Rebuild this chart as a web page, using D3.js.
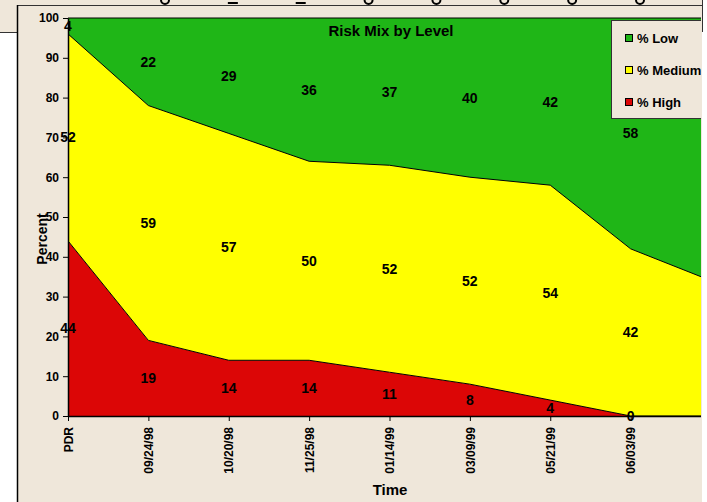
<!DOCTYPE html>
<html>
<head>
<meta charset="utf-8">
<script src="https://cdn.jsdelivr.net/npm/d3@7"></script>
<style>
  body { margin: 0; background: #fff; }
  svg { display: block; font-family: "Liberation Sans", Arial, sans-serif; font-weight: bold; }
</style>
</head>
<body>
<svg id="chart" width="707" height="502"></svg>
<script>
// Time categories; the last one runs off the window, so its label is never seen.
const times = ["PDR", "09/24/98", "10/20/98", "11/25/98", "01/14/99", "03/09/99", "05/21/99", "06/03/99", ""];
const pctHigh = [44, 19, 14, 14, 11, 8, 4, 0, 0];
const pctMedium = [52, 59, 57, 50, 52, 52, 54, 42, 34];
const pctLow = [4, 22, 29, 36, 37, 40, 42, 58, 66];
const yTicks = [0, 10, 20, 30, 40, 50, 60, 70, 80, 90, 100];
const seriesKeys = ["High", "Medium", "Low"];
const legendNames = ["% Low", "% Medium", "% High"];
// First glyphs of the upper chart's tick labels; only their bottoms peek in at the top.
const upperGlyphs = ["0", "1", "1", "0", "0", "0", "0", "0"];

const colors = { High: "#dc0606", Medium: "#ffff00", Low: "#1fb617" };
const legendColor = { "% Low": colors.Low, "% Medium": colors.Medium, "% High": colors.High };
const beige = "#efe7da";

const svg = d3.select("#chart");
const defs = svg.append("defs");

// Window background
svg.append("rect").attr("width", 707).attr("height", 502).attr("fill", "#fff");
svg.append("rect").attr("width", 702).attr("height", 32).attr("fill", beige);
svg.append("rect").attr("x", 17).attr("y", 5).attr("width", 685).attr("height", 497).attr("fill", beige);

// Glyph bottoms from the chart above (drawn as small strokes)
const xUpper = d3.scalePoint().domain(d3.range(upperGlyphs.length)).range([165, 640]);
const bottomArc = d3.arc().innerRadius(3).outerRadius(5).startAngle(Math.PI / 2).endAngle(Math.PI * 1.5);
const upper = svg.append("g").selectAll("g").data(upperGlyphs).join("g")
    .attr("transform", (d, i) => `translate(${xUpper(i)},0)`);
upper.filter(d => d === "0").append("path").attr("d", bottomArc).attr("fill", "#000");
upper.filter(d => d === "1").append("rect")
    .attr("x", -5).attr("y", 2).attr("width", 10).attr("height", 2).attr("fill", "#000");

// Frame lines
const frame = svg.append("g").attr("stroke", "#333").attr("stroke-width", 1);
frame.append("line").attr("x1", 17).attr("x2", 702).attr("y1", 5.5).attr("y2", 5.5);
frame.append("line").attr("x1", 0).attr("x2", 17).attr("y1", 32.5).attr("y2", 32.5);
frame.append("line").attr("x1", 702.5).attr("x2", 702.5).attr("y1", 0).attr("y2", 32);
frame.append("line").attr("x1", 17.5).attr("x2", 17.5).attr("y1", 5).attr("y2", 502).attr("stroke", "#000").attr("stroke-width", 1.5);

// Chart, clipped at the window's right edge
defs.append("clipPath").attr("id", "winClip")
    .append("rect").attr("x", 18).attr("y", 6).attr("width", 683).attr("height", 496);
defs.append("clipPath").attr("id", "plotClip")
    .append("rect").attr("x", 68).attr("y", 18).attr("width", 633).attr("height", 398);

const g = svg.append("g").attr("clip-path", "url(#winClip)");

const x = d3.scalePoint().domain(times).range([68, 711]);
const y = d3.scaleLinear().domain([0, 100]).range([416, 18]);

const rows = times.map((t, i) => ({ time: t, High: pctHigh[i], Medium: pctMedium[i], Low: pctLow[i] }));
const series = d3.stack().keys(seriesKeys)(rows);

const area = d3.area()
    .x(d => x(d.data.time))
    .y0(d => y(d[0]))
    .y1(d => y(d[1]));
const topLine = d3.line()
    .x(d => x(d.data.time))
    .y(d => y(d[1]));

const plot = g.append("g").attr("clip-path", "url(#plotClip)");
plot.selectAll(".area").data(series).join("path")
    .attr("class", "area")
    .attr("d", area)
    .attr("fill", s => colors[s.key]);
plot.selectAll(".edge").data(series.filter(s => s.key !== "Low")).join("path")
    .attr("class", "edge")
    .attr("d", topLine)
    .attr("fill", "none")
    .attr("stroke", "#000")
    .attr("stroke-width", 1);

// Plot top border
g.append("line").attr("x1", 68).attr("x2", 711).attr("y1", 18).attr("y2", 18)
    .attr("stroke", "#000").attr("stroke-width", 1);

// Axes
const yAxis = g.append("g")
    .attr("transform", "translate(68,0)")
    .call(d3.axisLeft(y).tickValues(yTicks).tickSize(5).tickSizeOuter(0).tickPadding(4));
const xAxis = g.append("g")
    .attr("transform", "translate(0,416)")
    .call(d3.axisBottom(x).tickSize(5).tickSizeOuter(0));
[yAxis, xAxis].forEach(a => {
    a.attr("font-family", null).attr("font-size", null);
    a.select(".domain").attr("stroke", "#000").attr("stroke-width", 1.5);
    a.selectAll(".tick line").attr("stroke", "#000").attr("stroke-width", 1);
    a.selectAll("text").attr("fill", "#000").style("font-size", "12px");
});
xAxis.selectAll("text")
    .attr("transform", "rotate(-90)")
    .attr("text-anchor", "end")
    .attr("x", -11)
    .attr("y", 0)
    .attr("dy", "0.35em");

// Data labels in the middle of each band (skip the off-window point)
series.forEach(s => {
    g.append("g").selectAll("text").data(s.filter(d => d.data.time !== "")).join("text")
        .attr("x", d => x(d.data.time))
        .attr("y", d => y((d[0] + d[1]) / 2))
        .attr("text-anchor", "middle")
        .attr("dominant-baseline", "central")
        .style("font-size", "14px")
        .attr("fill", "#000")
        .text(d => d.data[s.key]);
});

// Titles
g.append("text").attr("x", 391).attr("y", 36).attr("text-anchor", "middle")
    .style("font-size", "15px").text("Risk Mix by Level");
g.append("text").attr("transform", "translate(42,239) rotate(-90)")
    .attr("text-anchor", "middle").attr("dominant-baseline", "central")
    .style("font-size", "14px").text("Percent");
g.append("text").attr("x", 390).attr("y", 495).attr("text-anchor", "middle")
    .style("font-size", "15px").text("Time");

// Legend
const legend = g.append("g");
legend.append("rect").attr("x", 611.5).attr("y", 20.5).attr("width", 110).attr("height", 98)
    .attr("fill", beige).attr("stroke", "#333");
const ly = d3.scalePoint().domain(legendNames).range([38, 102]);
const items = legend.selectAll(".item").data(legendNames).join("g")
    .attr("class", "item")
    .attr("transform", d => `translate(625,${ly(d)})`);
items.append("rect").attr("x", 0.5).attr("y", -3.5).attr("width", 7).attr("height", 7)
    .attr("fill", d => legendColor[d]).attr("stroke", "#000");
items.append("text").attr("x", 12).attr("dominant-baseline", "central")
    .style("font-size", "13px").text(d => d);
</script>
</body>
</html>
